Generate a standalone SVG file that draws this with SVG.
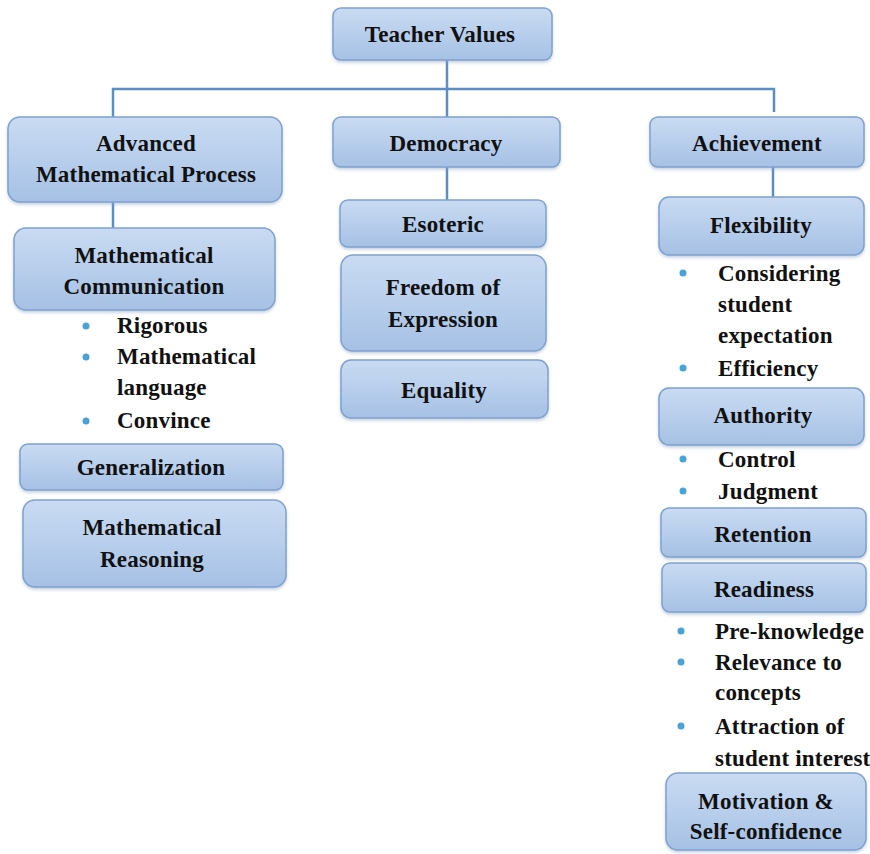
<svg xmlns="http://www.w3.org/2000/svg" width="870" height="854" viewBox="0 0 870 854">
<defs>
<linearGradient id="g" x1="0" y1="0" x2="0" y2="1">
<stop offset="0" stop-color="#c9dbf2"/>
<stop offset="1" stop-color="#a6c1e5"/>
</linearGradient>
<filter id="sh" x="-5%" y="-10%" width="110%" height="130%">
<feDropShadow dx="0" dy="2" stdDeviation="1.5" flood-color="#8fa7c6" flood-opacity="0.5"/>
</filter>
</defs>
<style>
.box{fill:url(#g);stroke:#7fa1cf;stroke-width:1.5;filter:url(#sh)}
.t{font-family:"Liberation Serif","Times New Roman",serif;font-weight:bold;font-size:23px;letter-spacing:0.2px;fill:#111}
.c{text-anchor:middle}
.dot{fill:#4aa3d6}
.ln{stroke:#5b8ec4;stroke-width:2.5;fill:none}
</style>
<rect width="870" height="854" fill="#ffffff"/>
<g id="connectors">
<path class="ln" d="M447 60 V200"/>
<path class="ln" d="M113 117 V89 H774 V112"/>
<path class="ln" d="M113 202 V228"/>
<path class="ln" d="M773 167 V197"/>
</g>
<g id="teacher-values"><rect class="box" x="333" y="8" width="219" height="52" rx="8"/><text class="t c" x="440" y="42">Teacher Values</text></g>
<g id="advanced"><rect class="box" x="8" y="117" width="274" height="85" rx="12"/><text class="t c" x="146" y="151">Advanced</text><text class="t c" x="146" y="182">Mathematical Process</text></g>
<g id="democracy"><rect class="box" x="333" y="117" width="227" height="50" rx="8"/><text class="t c" x="446" y="151">Democracy</text></g>
<g id="achievement"><rect class="box" x="650" y="117" width="214" height="50" rx="8"/><text class="t c" x="757" y="151">Achievement</text></g>
<g id="math-comm"><rect class="box" x="14" y="228" width="261" height="82" rx="12"/><text class="t c" x="144" y="263">Mathematical</text><text class="t c" x="144" y="294">Communication</text></g>
<g id="math-comm-items">
<circle class="dot" cx="86" cy="326" r="3.5"/><text class="t" x="117" y="333">Rigorous</text>
<circle class="dot" cx="86" cy="357" r="3.5"/><text class="t" x="117" y="364">Mathematical</text>
<text class="t" x="117" y="395">language</text>
<circle class="dot" cx="86" cy="421" r="3.5"/><text class="t" x="117" y="428">Convince</text>
</g>
<g id="generalization"><rect class="box" x="20" y="444" width="263" height="46" rx="8"/><text class="t c" x="151" y="475">Generalization</text></g>
<g id="math-reasoning"><rect class="box" x="23" y="500" width="263" height="87" rx="12"/><text class="t c" x="152" y="535">Mathematical</text><text class="t c" x="152" y="567">Reasoning</text></g>
<g id="esoteric"><rect class="box" x="340" y="200" width="206" height="47" rx="8"/><text class="t c" x="443" y="232">Esoteric</text></g>
<g id="freedom"><rect class="box" x="341" y="255" width="205" height="96" rx="12"/><text class="t c" x="443" y="295">Freedom of</text><text class="t c" x="443" y="327">Expression</text></g>
<g id="equality"><rect class="box" x="341" y="360" width="207" height="58" rx="10"/><text class="t c" x="444" y="398">Equality</text></g>
<g id="flexibility"><rect class="box" x="659" y="197" width="205" height="58" rx="10"/><text class="t c" x="761" y="233">Flexibility</text></g>
<g id="flexibility-items">
<circle class="dot" cx="683" cy="273" r="3.5"/><text class="t" x="718" y="281">Considering</text>
<text class="t" x="718" y="312">student</text>
<text class="t" x="718" y="343">expectation</text>
<circle class="dot" cx="683" cy="368" r="3.5"/><text class="t" x="718" y="376">Efficiency</text>
</g>
<g id="authority"><rect class="box" x="659" y="388" width="205" height="57" rx="10"/><text class="t c" x="763" y="423">Authority</text></g>
<g id="authority-items">
<circle class="dot" cx="683" cy="459" r="3.5"/><text class="t" x="718" y="467">Control</text>
<circle class="dot" cx="683" cy="491" r="3.5"/><text class="t" x="718" y="499">Judgment</text>
</g>
<g id="retention"><rect class="box" x="661" y="508" width="205" height="49" rx="8"/><text class="t c" x="763" y="542">Retention</text></g>
<g id="readiness"><rect class="box" x="662" y="563" width="204" height="49" rx="8"/><text class="t c" x="764" y="597">Readiness</text></g>
<g id="readiness-items">
<circle class="dot" cx="681" cy="631" r="3.5"/><text class="t" x="715" y="639">Pre-knowledge</text>
<circle class="dot" cx="681" cy="662" r="3.5"/><text class="t" x="715" y="670">Relevance to</text>
<text class="t" x="715" y="700">concepts</text>
<circle class="dot" cx="681" cy="726" r="3.5"/><text class="t" x="715" y="734">Attraction of</text>
<text class="t" x="715" y="766">student interest</text>
</g>
<g id="motivation"><rect class="box" x="666" y="773" width="200" height="77" rx="12"/><text class="t c" x="766" y="809">Motivation &amp;</text><text class="t c" x="766" y="839">Self-confidence</text></g>
</svg>
